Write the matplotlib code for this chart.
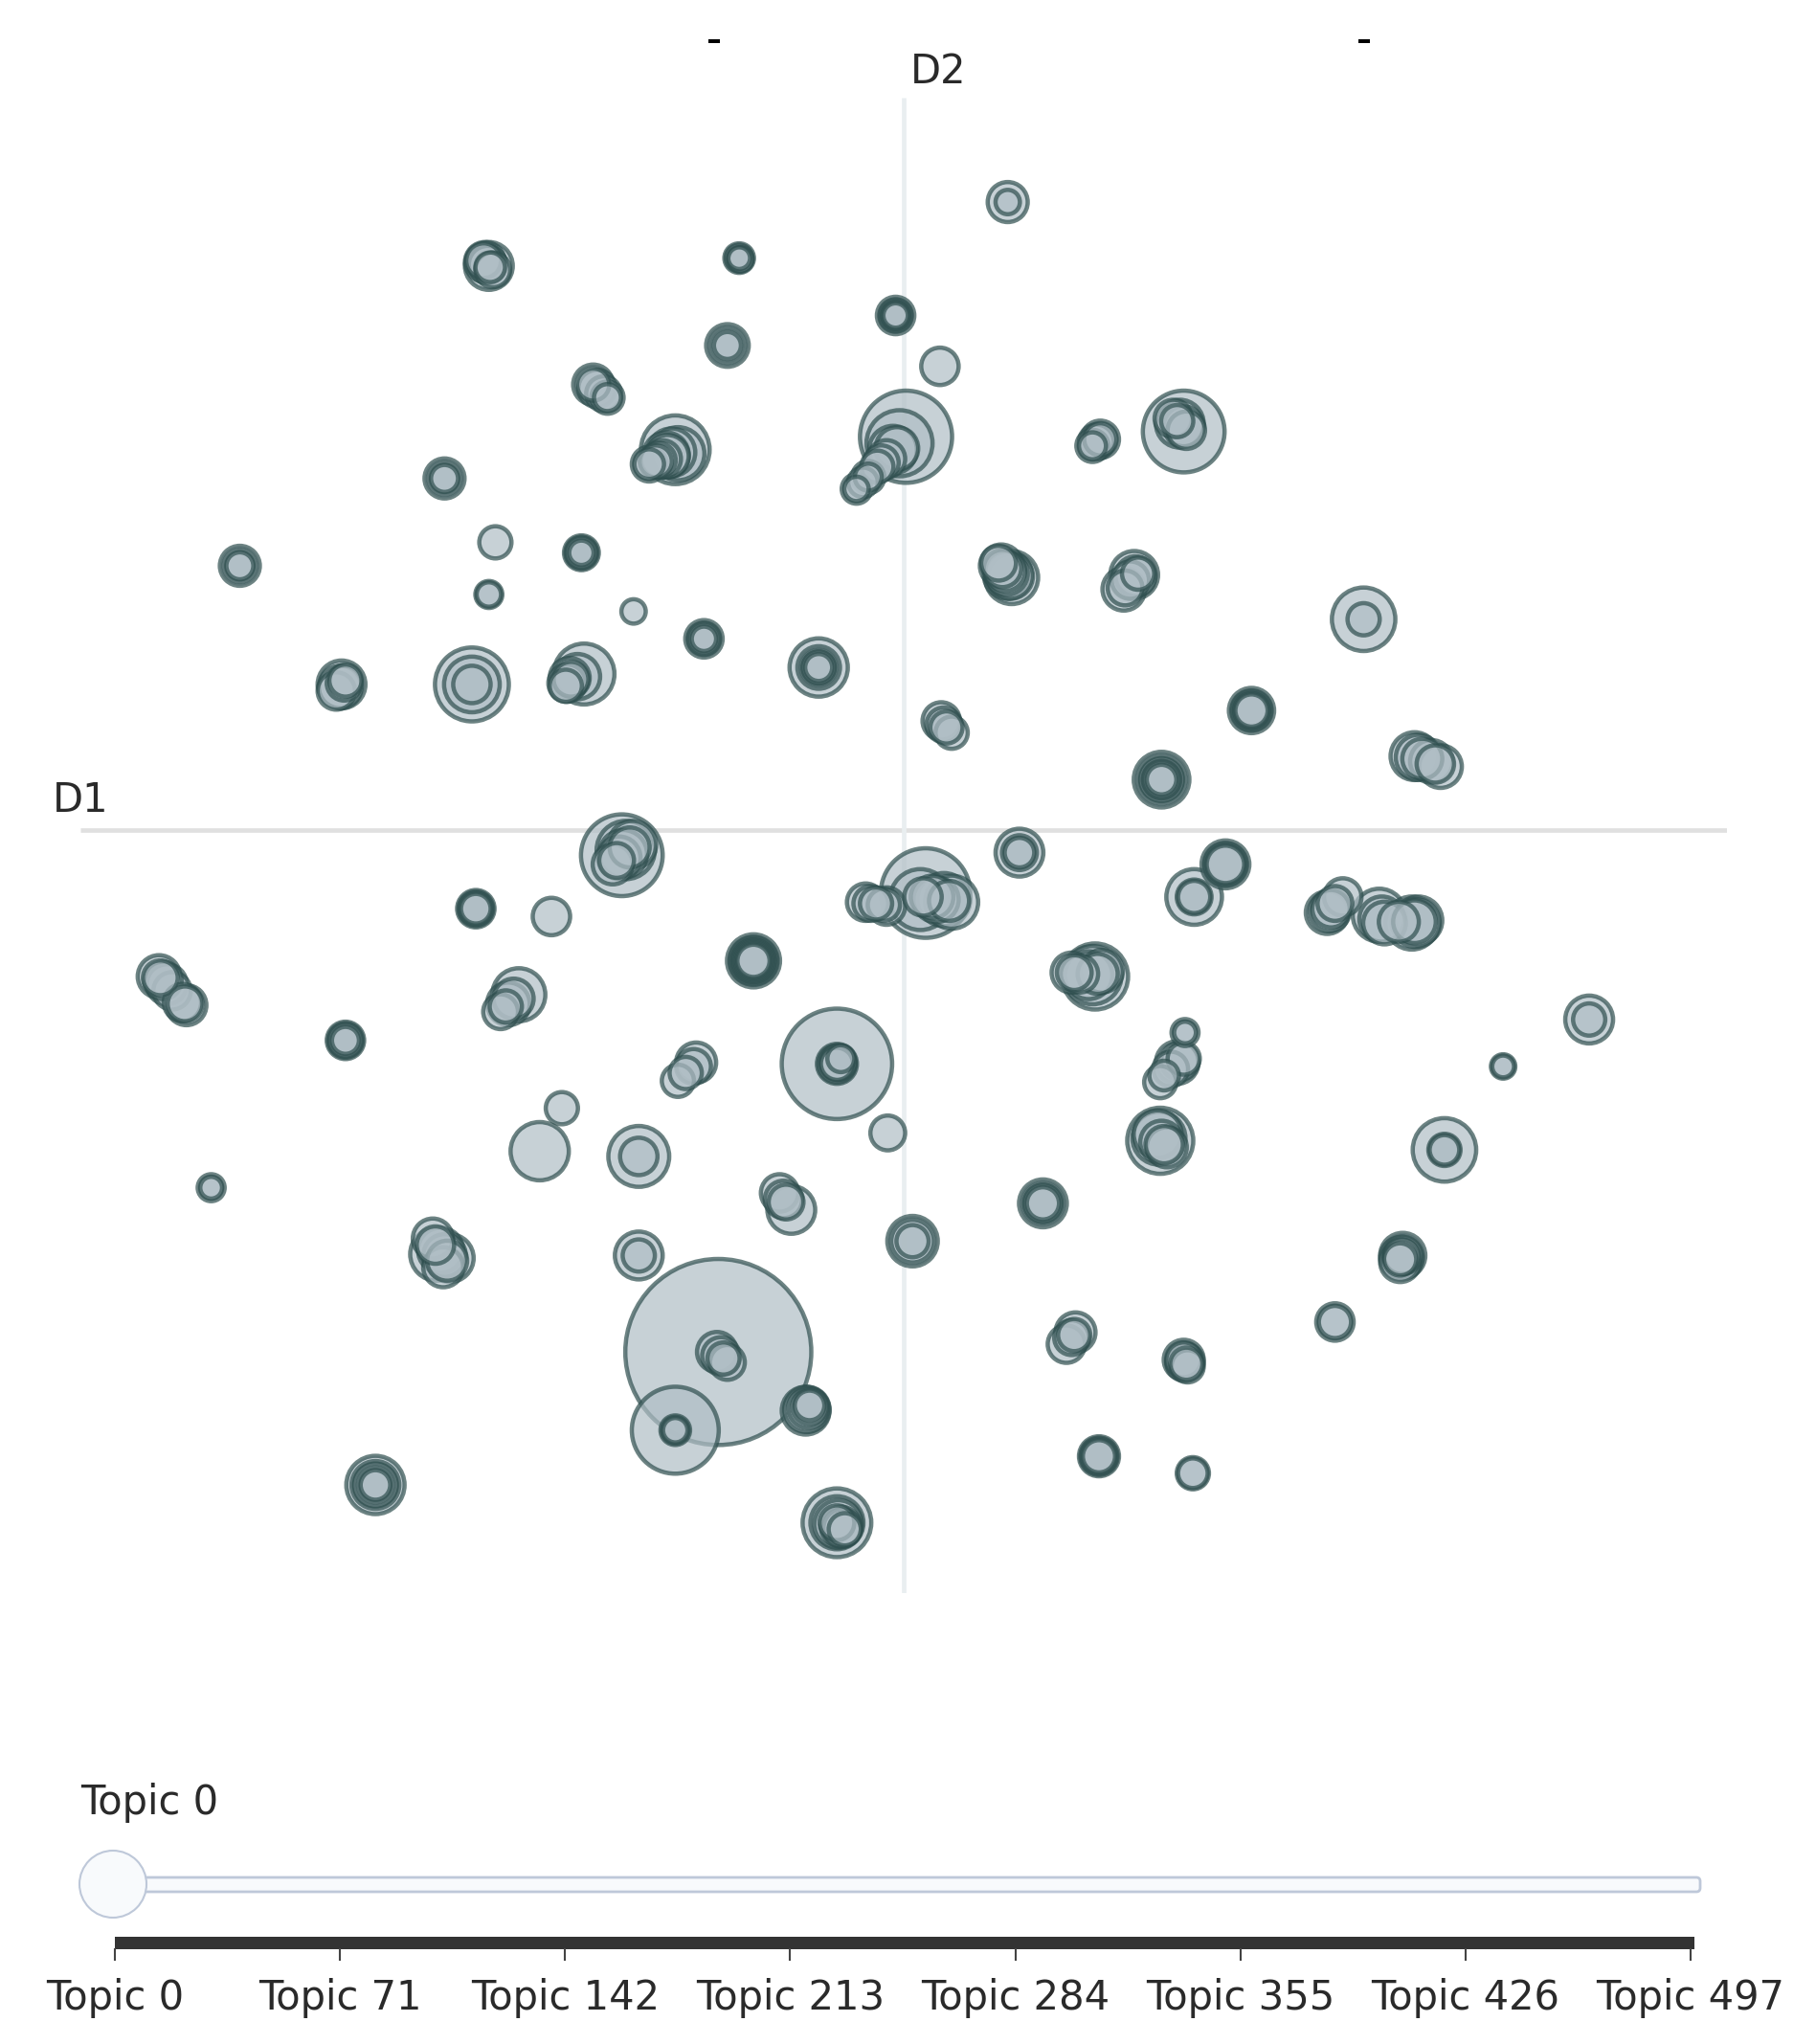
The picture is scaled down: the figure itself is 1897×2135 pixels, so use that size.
import numpy as np
import matplotlib
matplotlib.use("Agg")
import matplotlib.pyplot as plt
from matplotlib.patches import FancyBboxPatch, Circle, Rectangle

# ---------------- data ----------------
# D1 / D2 coordinates of the visible topic embeddings and topic frequencies
topic_x = [
    1.60, 1.60,
    -6.44, -6.30, -6.36,
    -2.52, -2.52,
    -0.12, -0.12,
    -2.70, -2.70,
    0.56,
    -4.76, -4.54,
    -3.50, -3.46, -3.90, -3.62,
    0.04, -0.06, -0.16, -0.34, -0.54, -0.72,
    3.02, 2.90,
    4.30, 4.14, 4.34, 4.24,
    -7.04, -7.04,
    -10.18, -10.18,
    -6.26,
    -4.94, -4.94,
    -6.36,
    -4.14,
    -3.06, -3.06,
    -1.30, -1.30, -1.30,
    1.50, 1.66, 1.58,
    3.54, 3.38, 3.60,
    7.06, 7.06,
    -8.62, -8.70, -8.56,
    -6.62, -6.62, -6.62,
    -4.90, -5.12, -5.18,
    0.58, 0.74,
    5.34, 5.34,
    3.96, 3.96, 3.96,
    7.84, 8.10, 8.24,
    -4.32, -4.16, -4.46, -4.26,
    1.78, 1.78,
    0.34, 0.26, 0.62, 0.74, -0.58, -0.26, 0.44,
    4.94, 4.94,
    4.46, 4.46,
    -6.56, -6.56,
    -5.40,
    6.50, 6.74, 7.30, 7.38, 7.80, 7.90,
    -11.42, -11.00, -11.22,
    -2.30, -2.30, -2.30,
    -5.90, -6.06, -6.18,
    2.94, 2.58, 3.04,
    10.52, 10.52,
    -8.56, -8.56,
    4.32,
    4.20, 3.94, 4.30,
    9.20,
    -3.18, -3.46,
    -1.02, -1.02, -1.02, -0.96,
    -5.24,
    -0.24,
    3.94, 3.90, 4.04,
    -5.58,
    -4.06, -4.06,
    8.30, 8.30,
    -10.62,
    -1.90, -1.72,
    2.14, 2.14,
    0.14, 0.14,
    -7.22, -6.96, -7.06, -7.16,
    -4.06, -4.06,
    7.66, 7.62,
    6.62,
    -2.84, -2.86, -2.70,
    2.64, 2.50,
    4.30, 4.36,
    -3.50, -3.50,
    -1.50, -1.44,
    3.00, 3.00,
    4.44,
    -8.10, -8.10, -8.10,
    -1.02, -1.02, -1.02, -0.90,
]
topic_y = [
    9.64, 9.64,
    8.74, 8.60, 8.66,
    8.78, 8.78,
    7.90, 7.90,
    7.44, 7.44,
    7.12,
    6.84, 6.64,
    5.84, 5.78, 5.62, 5.74,
    6.04, 5.94, 5.84, 5.64, 5.42, 5.24,
    6.00, 5.90,
    6.12, 6.32, 6.14, 6.24,
    5.40, 5.40,
    4.06, 4.06,
    4.42,
    4.26, 4.26,
    3.62,
    3.36,
    2.94, 2.94,
    2.50, 2.50, 2.50,
    4.06, 3.88, 3.94,
    3.92, 3.70, 3.94,
    3.24, 3.24,
    2.24, 2.14, 2.30,
    2.24, 2.24, 2.24,
    2.40, 2.34, 2.22,
    1.68, 1.50,
    1.84, 1.84,
    0.78, 0.78, 0.78,
    1.14, 1.06, 0.98,
    -0.38, -0.22, -0.52, -0.30,
    -0.34, -0.34,
    -0.96, -1.06, -1.06, -1.10, -1.10, -1.16, -1.02,
    -0.52, -0.52,
    -1.02, -1.02,
    -1.20, -1.20,
    -1.32,
    -1.26, -1.02, -1.30, -1.42, -1.42, -1.38,
    -2.24, -2.68, -2.46,
    -2.00, -2.00, -2.00,
    -2.52, -2.66, -2.78,
    -2.24, -2.18, -2.16,
    -2.90, -2.90,
    -3.22, -3.22,
    -3.10,
    -3.56, -3.86, -3.50,
    -3.62,
    -3.56, -3.84,
    -3.58, -3.58, -3.58, -3.50,
    -4.26,
    -4.64,
    -4.76, -4.66, -4.86,
    -4.92,
    -5.00, -5.00,
    -4.90, -4.90,
    -5.48,
    -5.56, -5.82,
    -5.72, -5.72,
    -6.30, -6.30,
    -6.26, -6.56, -6.70, -6.50,
    -6.52, -6.52,
    -6.52, -6.62,
    -7.54,
    -8.00, -8.00, -8.16,
    -7.70, -7.88,
    -8.12, -8.22,
    -9.20, -9.20,
    -8.90, -8.82,
    -9.60, -9.60,
    -9.86,
    -10.04, -10.04, -10.04,
    -10.62, -10.62, -10.62, -10.72,
]
topic_freq = [
    289, 121,
    225, 225, 400,
    169, 100,
    256, 144,
    324, 144,
    256,
    289, 196,
    784, 484, 225, 324,
    1369, 729, 400, 225, 196, 169,
    256, 196,
    1089, 256, 256, 400,
    289, 144,
    289, 144,
    196,
    225, 121,
    144,
    121,
    256, 121,
    576, 324, 144,
    324, 484, 324,
    400, 324, 196,
    676, 196,
    400, 256, 196,
    900, 529, 256,
    625, 289, 196,
    256, 196,
    361, 196,
    529, 324, 169,
    400, 324, 324,
    1089, 400, 289, 576,
    400, 169,
    1296, 625, 484, 484, 256, 256, 324,
    400, 256,
    529, 225,
    256, 169,
    256,
    324, 256, 484, 324, 484, 400,
    324, 289, 256,
    484, 324, 196,
    484, 324, 225,
    729, 289, 324,
    400, 196,
    256, 144,
    144,
    324, 196, 196,
    121,
    289, 196,
    1936, 289, 196, 144,
    196,
    225,
    729, 400, 289,
    576,
    625, 256,
    676, 196,
    144,
    256, 400,
    400, 196,
    441, 196,
    289, 400, 289, 484,
    400, 196,
    361, 289,
    256,
    5329, 289, 225,
    289, 256,
    289, 196,
    1225, 169,
    400, 169,
    289, 196,
    196,
    576, 324, 169,
    784, 484, 225, 196,
]

# topics that sit (almost) on top of the visible ones - they only show as
# darker, thicker rings in the picture
stacked_x = [
    -6.42, -6.34, -6.38,
    -2.52, -2.50,
    -0.12, -0.12, -0.12,
    -4.70, -4.60, -4.54, -4.76,
    -3.56, -3.80, -3.70, -3.90, -3.64, -3.76,
    -0.40, -0.62, -0.72, -0.26, -0.10, -0.54,
    3.02, 2.90, 2.96,
    4.20, 4.30,
    -4.94, -4.94,
    -6.36,
    -3.06, -3.06,
    -1.30, -1.30,
    1.52, 1.60, 1.46, 1.56, 1.64,
    3.48, 3.56, 3.40,
    -8.64, -8.58,
    -5.10, -5.16, -5.00,
    0.62, 0.66,
    5.34, 5.34, 5.34,
    3.96, 3.96, 3.96,
    7.96, 7.90, 8.16,
    -4.40, -4.20, -4.30, -4.36,
    -0.50, -0.30, 0.50, 0.70, 0.30, -0.42,
    4.94, 4.94,
    -6.56, -6.56,
    6.56, 6.62, 7.34, 7.84, 7.60, 6.54, 7.86,
    -11.40, -11.02, -11.30, -11.36, -11.06,
    -2.30, -2.30, -2.30, -2.30, -2.30,
    -5.98, -6.10,
    2.70, 2.84, 2.98, 2.62, 2.90,
    -8.56, -8.56,
    4.32,
    4.10, 4.24, 4.00,
    -3.22, -3.34,
    -1.00, -1.02,
    3.92, 3.96, 4.00,
    -1.84, -1.80,
    2.14, 2.14,
    0.14,
    -7.10, -7.00, -7.18, -7.04,
    7.64, 7.66, 7.64, 7.62,
    -2.80, -2.76,
    2.58, 2.62,
    4.32, 4.30, 4.34,
    -1.48, -1.46, -1.44,
    3.00, 3.00,
    -8.10, -8.10,
    -1.00, -0.96, -0.94,
    -10.18, -7.04, -2.70, 1.78,
    -3.50, -3.50,
    6.62, 8.30, 4.46, 9.20, -10.62, 4.44,
]
stacked_y = [
    8.72, 8.64, 8.68,
    8.78, 8.76,
    7.90, 7.90, 7.90,
    6.78, 6.70, 6.64, 6.84,
    5.80, 5.66, 5.70, 5.62, 5.76, 5.68,
    5.58, 5.34, 5.24, 5.70, 5.86, 5.42,
    6.00, 5.90, 5.96,
    6.28, 6.20,
    4.26, 4.26,
    3.62,
    2.94, 2.94,
    2.50, 2.50,
    4.02, 3.92, 4.10, 3.98, 3.90,
    3.84, 3.90, 3.72,
    2.20, 2.26,
    2.32, 2.26, 2.36,
    1.62, 1.58,
    1.84, 1.84, 1.84,
    0.78, 0.78, 0.78,
    1.10, 1.12, 1.02,
    -0.46, -0.26, -0.36, -0.42,
    -1.12, -1.14, -1.06, -1.08, -1.02, -1.12,
    -0.52, -0.52,
    -1.20, -1.20,
    -1.20, -1.12, -1.36, -1.40, -1.40, -1.24, -1.42,
    -2.26, -2.66, -2.36, -2.30, -2.64,
    -2.00, -2.00, -2.00, -2.00, -2.00,
    -2.58, -2.70,
    -2.20, -2.22, -2.20, -2.18, -2.22,
    -3.22, -3.22,
    -3.10,
    -3.66, -3.54, -3.76,
    -3.62, -3.72,
    -3.56, -3.58,
    -4.72, -4.78, -4.82,
    -5.66, -5.70,
    -5.72, -5.72,
    -6.30,
    -6.44, -6.60, -6.36, -6.52,
    -6.56, -6.52, -6.54, -6.58,
    -8.06, -8.10,
    -7.78, -7.74,
    -8.16, -8.12, -8.18,
    -8.88, -8.86, -8.84,
    -9.60, -9.60,
    -10.04, -10.04,
    -10.64, -10.68, -10.70,
    4.06, 5.40, 7.44, -0.34,
    -9.20, -9.20,
    -7.54, -4.90, -1.02, -3.62, -5.48, -9.86,
]
stacked_freq = [
    289, 169, 256,
    144, 121,
    196, 169, 121,
    256, 225, 144, 196,
    400, 196, 256, 169, 361, 225,
    196, 169, 121, 256, 324, 144,
    196, 144, 225,
    196, 289,
    169, 196,
    121,
    196, 169,
    225, 196,
    256, 400, 225, 289, 361,
    256, 289, 225,
    324, 225,
    225, 256, 361,
    225, 196,
    289, 256, 225,
    256, 225, 400,
    289, 361, 256,
    225, 289, 400, 324,
    225, 196, 361, 289, 256, 196,
    324, 289,
    225, 196,
    256, 225, 361, 324, 289, 289, 400,
    225, 225, 289, 256, 256,
    400, 361, 289, 256, 225,
    289, 196,
    256, 400, 289, 225, 576,
    196, 225,
    100,
    225, 256, 169,
    225, 196,
    225, 256,
    484, 324, 256,
    256, 225,
    289, 256,
    324,
    361, 289, 256, 324,
    324, 256, 225, 196,
    256, 196,
    225, 196,
    256, 225, 196,
    361, 289, 225,
    256, 225,
    400, 225,
    400, 289, 256,
    196, 196, 225, 225,
    144, 121,
    196, 169, 196, 100, 100, 169,
]

d1_range = (-12.62, 12.64)
d2_range = (-11.70, 11.24)

slider_steps = [0, 71, 142, 213, 284, 355, 426, 497]
slider_labels = [f"Topic {s}" for s in slider_steps]
current_topic = "Topic 0"

# ---------------- figure ----------------
W, H, DPI = 1897, 2135, 100
fig = plt.figure(figsize=(W / DPI, H / DPI), dpi=DPI)
fig.patch.set_facecolor("white")
font = "DejaVu Sans"
txt_color = "#2a2a2a"
fs = 30

# main scatter axes (pixel box of the plotting area)
left_px, right_px, top_px, bot_px = 84.4, 1804.4, 102.1, 1664.1
ax = fig.add_axes([left_px / W, 1 - bot_px / H,
                   (right_px - left_px) / W, (bot_px - top_px) / H])
ax.set_xlim(*d1_range)
ax.set_ylim(*d2_range)
ax.axis("off")

# D1 / D2 axis lines
ax.plot(list(d1_range), [0, 0], color="#E0E0E0", lw=3.4, zorder=1,
        solid_capstyle="butt")
ax.plot([0, 0], list(d2_range), color="#E9EEF0", lw=3.4, zorder=1,
        solid_capstyle="butt")
ax.text(d1_range[0], 0.46, "D1", ha="center", va="center",
        fontsize=fs, family=font, color=txt_color)
ax.text(0.54, 11.64, "D2", ha="center", va="center",
        fontsize=fs, family=font, color=txt_color, clip_on=False)

# bubbles
x = np.array(topic_x + stacked_x)
y = np.array(topic_y + stacked_y)
f = np.array(topic_freq + stacked_freq, dtype=float)
order = np.argsort(-f, kind="stable")
size_max_px = 198.8
edge_px = 4.5
diam_px = size_max_px * np.sqrt(f / f.max()) - edge_px
s_pts = (diam_px * 72 / DPI) ** 2
ax.scatter(x[order], y[order], s=s_pts[order], c="#B0BEC5",
           edgecolors="#2F4F4F", linewidths=edge_px * 72 / DPI,
           alpha=0.7, zorder=3, clip_on=False)

# ---------------- overlay in pixel coordinates (slider) ----------------
ov = fig.add_axes([0, 0, 1, 1])
ov.set_xlim(0, W)
ov.set_ylim(H, 0)
ov.axis("off")
ov.patch.set_alpha(0)

# title remnants at the very top
for cx in (746, 1425):
    ov.add_patch(Rectangle((cx - 6, 40.5), 12, 4, color="black", lw=0))

# current value label
ov.text(84, 1883, current_topic, ha="left", va="center", fontsize=fs,
        family=font, color=txt_color)

# slider track
track_x0, track_x1 = 118, 1776
ov.add_patch(FancyBboxPatch((track_x0, 1961), track_x1 - track_x0, 15,
                            boxstyle="round,pad=0,rounding_size=4",
                            fc="#F8FAFC", ec="#BEC8D9", lw=2))
# handle
ov.add_patch(Circle((118, 1968), 35, fc="#F8FAFC", ec="#BEC8D9", lw=1.5,
                    zorder=5))

# tick rail
tick0, tick1 = 120.0, 1766.0
ov.add_patch(Rectangle((tick0, 2023), tick1 - tick0 + 4, 13, color="#333333",
                       lw=0))
steps = np.array(slider_steps, dtype=float)
tick_x = tick0 + (steps - steps[0]) / (steps[-1] - steps[0]) * (tick1 - tick0)
for tx, lab in zip(tick_x, slider_labels):
    ov.plot([tx, tx], [2036, 2047], color="#444444", lw=1.5)
    ov.text(tx, 2087, lab, ha="center", va="center", fontsize=fs,
            family=font, color=txt_color)

fig.savefig("out.png", dpi=DPI, facecolor="white")
